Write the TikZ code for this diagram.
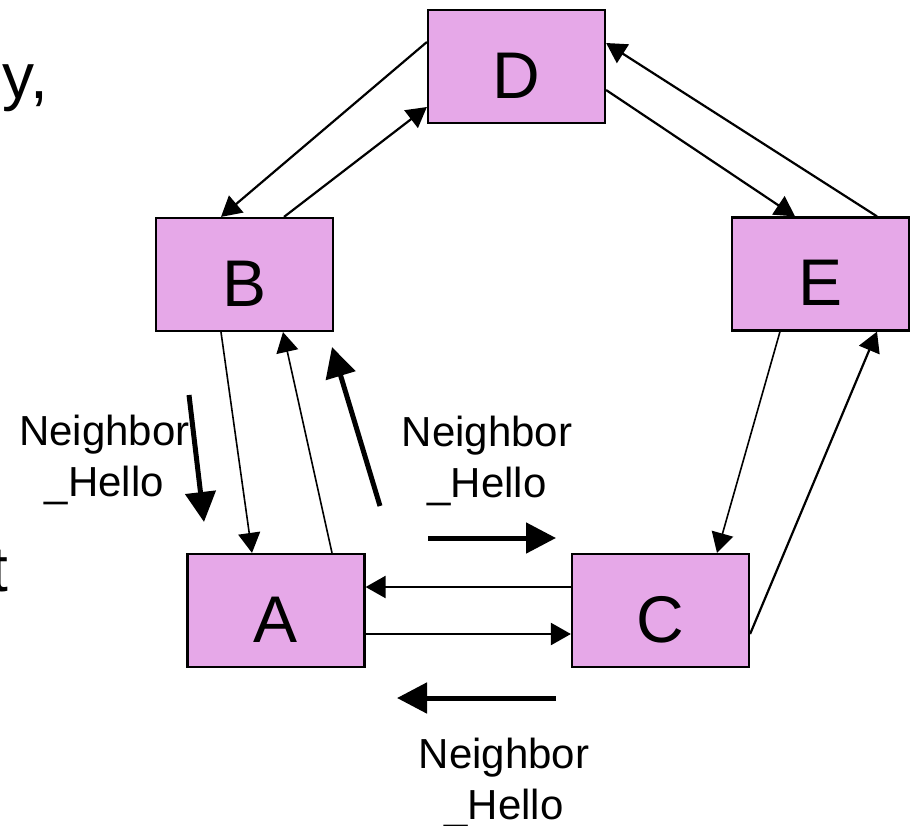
\documentclass[tikz,border=0pt]{standalone}
\usepackage{fontspec}
\setmainfont{Liberation Sans}
\usetikzlibrary{arrows.meta}
\definecolor{boxpink}{RGB}{230,168,232}
\tikzset{
	router/.style={draw, line width=2.2pt, fill=boxpink, minimum width=177pt, minimum height=113pt,
		inner sep=0pt, text height=63pt, text depth=0pt, font=\fontsize{66}{66}\selectfont},
	link/.style={line width=2.2pt, -{Triangle[length=20pt,width=22pt]}},
	thinlink/.style={link, line width=1.6pt},
	hello/.style={line width=5pt, -{Triangle[length=30pt,width=30pt]}},
	msg/.style={anchor=north, inner sep=0pt, align=center, font=\fontsize{42}{51}\selectfont},
	slide/.style={anchor=base east, inner sep=0pt, font=\fontsize{64}{77}\selectfont}
}
\begin{document}
\begin{tikzpicture}[x=1pt,y=-1pt]
	\useasboundingbox (0,0) rectangle (912,825);
	\node[slide] (s1) at (48,98.5) {y,};
	\node[slide] (s2) at (8,591) {t};
	\node[router] (D) at (516.5,66.5) {D};
	\node[router] (B) at (244.5,274.5) {B};
	\node[router] (E) at (820.5,274) {E};
	\node[router] (A) at (276,610.5) {A};
	\node[router] (C) at (660.5,610.5) {C};
	\draw[link] ([yshift=24.5pt]D.west) -- ([xshift=-23.5pt]B.north);
	\draw[link] ([xshift=39.5pt]B.north) -- ([yshift=-40.5pt]D.west);
	\draw[link] ([yshift=-23.5pt]D.east) -- ([xshift=-25.5pt]E.north);
	\draw[link] ([xshift=56.5pt]E.north) -- ([yshift=23.5pt]D.east);
	\draw[thinlink] ([xshift=-40.5pt]E.south) -- ([xshift=56.5pt]C.north);
	\draw[link] ([yshift=-23.5pt]C.east) -- ([xshift=56.5pt]E.south);
	\draw[thinlink] ([xshift=-23.5pt]B.south) -- ([xshift=-24pt]A.north);
	\draw[thinlink] ([xshift=56pt]A.north) -- ([xshift=38.5pt]B.south);
	\draw[link] ([yshift=23.5pt]C.west) -- ([yshift=23.5pt]A.east);
	\draw[link] ([yshift=-23.5pt]A.east) -- ([yshift=-23.5pt]C.west);
	\coordinate (h1a) at (189,395);
	\coordinate (h1b) at (204,522);
	\coordinate (h2a) at (380,506);
	\coordinate (h2b) at (332,347);
	\coordinate (h3a) at (428,538);
	\coordinate (h3b) at (556,538);
	\coordinate (h4a) at (556,698);
	\coordinate (h4b) at (397,698);
	\draw[hello] (h1a) -- (h1b);
	\draw[hello] (h2a) -- (h2b);
	\draw[hello] (h3a) -- (h3b);
	\draw[hello] (h4a) -- (h4b);
	\node[msg] (m1) at (104.5,415) {Neighbor\\\_Hello};
	\node[msg] (m2) at (487,416) {Neighbor\\\_Hello};
	\node[msg] (m3) at (504,738) {Neighbor\\\_Hello};
\end{tikzpicture}
\end{document}
